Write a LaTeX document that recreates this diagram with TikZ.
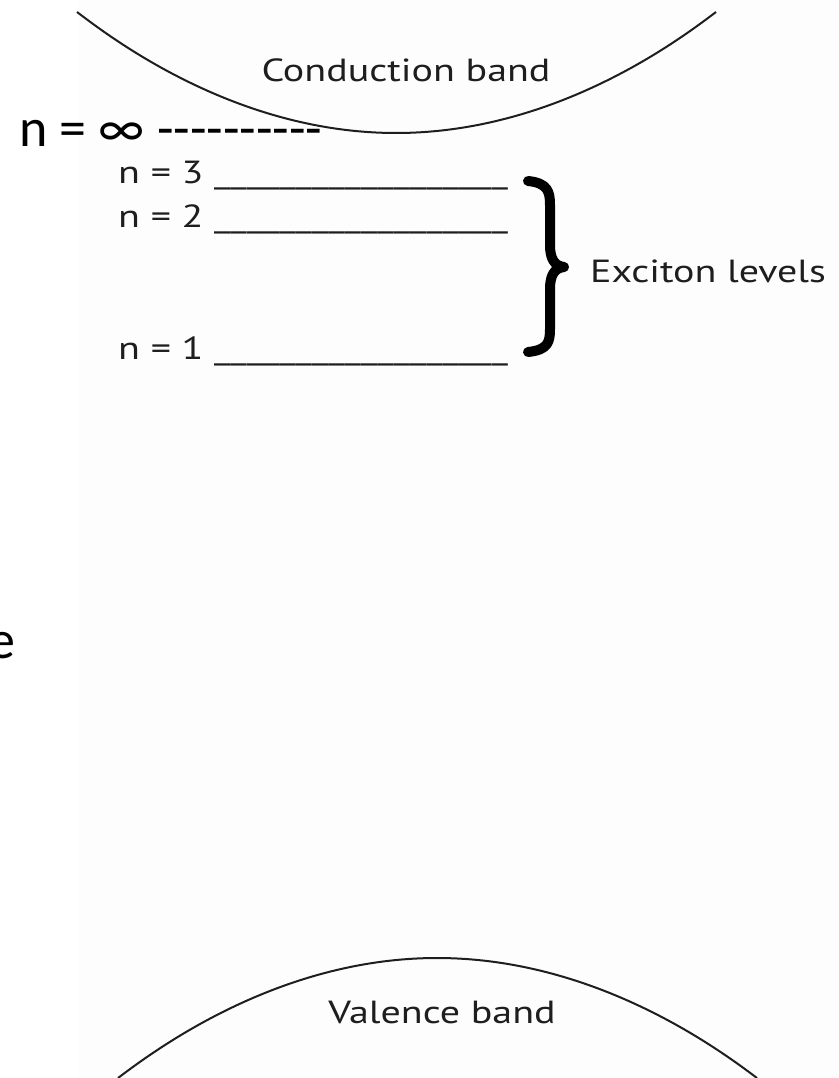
\documentclass[tikz,border=0pt]{standalone}
\usepackage{fontspec}
\setmainfont{PT Sans}
\newfontfamily\calfont{Carlito}
\usepackage{graphicx}
\usetikzlibrary{positioning}
\definecolor{inkgray}{RGB}{30,30,30}
\definecolor{paper}{RGB}{253,253,253}
\newcommand{\wide}[1]{\scalebox{1.25}[1]{#1}}
\newcommand{\lvlline}{\_\_\_\_\_\_\_\_\_\_\_\_\_\_\_\_\_\_}

\begin{document}
\begin{tikzpicture}[
			x=1pt,
			y=-1pt,
			bandtext/.style={
				inner sep=0pt,
				text=inkgray,
				font=\fontsize{32}{36}\selectfont
			},
			lvltext/.style={
				inner sep=0pt,
				anchor=base west,
				text=inkgray,
				font=\fontsize{32}{36}\selectfont
			},
			bigtext/.style={
				inner sep=0pt,
				text=black,
				font=\calfont\fontsize{54}{60}\selectfont
			},
			band/.style={
				draw=inkgray,
				line width=2pt
			}
			]
			
			\useasboundingbox (0,0) rectangle (838,1078);
			\fill[paper] (78,0) rectangle (838,1078);
			
			% Bands
			\draw[band] (77,12) parabola bend (396,133) (716,12);
			\draw[band] (118,1078) parabola bend (437,958) (757,1078);
			\node[bandtext,anchor=base] (cond) at (406,82) {\wide{Conduction band}};
			\node[bandtext,anchor=base] (val) at (442,1023) {\wide{Valence band}};
			
			% Levels
			\node[bigtext,anchor=base west] (ninf) at (19,147) {n = ∞ -{}-{}-{}-{}-{}-{}-{}-{}-{}-};
			\node[lvltext] (n3) at (118,183) {\wide{n = 3 \lvlline}};
			\node[lvltext] (n2) at (118,227) {\wide{n = 2 \lvlline}};
			\node[lvltext] (n1) at (118,359) {\wide{n = 1 \lvlline}};
			
			% Brace
			\draw[line width=10pt,line cap=round,line join=round] (528,181) .. controls (548,183) and (550,192) .. (550,205)
				-- (550,245) .. controls (550,258) and (554,266) .. (564,267)
				.. controls (554,268) and (550,276) .. (550,289)
				-- (550,329) .. controls (550,342) and (548,350) .. (528,352);
			\node[lvltext] (exc) at (590,282) {\wide{Exciton levels}};
			
			% Cut-off letter
			\node[bigtext,anchor=base east] (cut) at (16,658) {e};
			
		\end{tikzpicture}
\end{document}
